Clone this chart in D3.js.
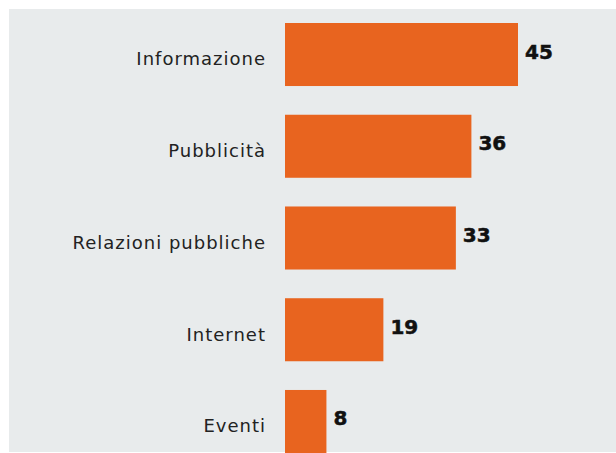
<!DOCTYPE html>
<html>
<head>
<meta charset="utf-8">
<script src="https://cdn.jsdelivr.net/npm/d3@7"></script>
<style>
  body { margin: 0; background: #fff; }
  svg { display: block; }
</style>
</head>
<body>
<div id="chart"></div>
<script>
var categories = ['Informazione', 'Pubblicità', 'Relazioni pubbliche', 'Internet', 'Eventi'];
var values = [45, 36, 33, 19, 8];

var width = 616, height = 453;
var margin = { top: 23, left: 285 };

var svg = d3.select('#chart').append('svg')
  .attr('width', width)
  .attr('height', height);

// grey panel behind the chart
svg.append('rect')
  .attr('x', 9).attr('y', 9)
  .attr('width', width - 9).attr('height', height - 10)
  .style('fill', '#e8ebec');

var xScale = d3.scaleLinear().domain([0, 45]).range([margin.left, 518]);
var yScale = d3.scaleBand().domain(categories)
  .range([margin.top, 453]).paddingInner(0.313).paddingOuter(0);

var data = categories.map(function (c, i) { return { cat: c, val: values[i] }; });

svg.append('g').selectAll('rect')
  .data(data).enter().append('rect')
  .attr('x', xScale(0))
  .attr('y', function (d) { return yScale(d.cat); })
  .attr('width', function (d) { return xScale(d.val) - xScale(0); })
  .attr('height', yScale.bandwidth())
  .style('fill', '#e8641f');

svg.append('g').selectAll('text')
  .data(data).enter().append('text')
  .attr('x', function (d) { return xScale(d.val) + 7; })
  .attr('y', function (d) { return yScale(d.cat) + yScale.bandwidth() / 2 - 3; })
  .attr('dy', '0.35em')
  .style('font-family', 'DejaVu Sans')
  .style('font-weight', 'bold')
  .style('font-size', '20px')
  .style('fill', '#111')
  .style('stroke', '#111')
  .style('stroke-width', '0.5px')
  .text(function (d) { return d.val; });

var yAxis = d3.axisLeft(yScale).tickSize(0).tickPadding(19);
var ax = svg.append('g')
  .attr('transform', 'translate(' + margin.left + ',5)')
  .call(yAxis);
ax.select('.domain').remove();
ax.selectAll('text')
  .style('font-family', 'DejaVu Sans')
  .style('font-size', '18px')
  .style('letter-spacing', '1px')
  .style('fill', '#222');
</script>
</body>
</html>
